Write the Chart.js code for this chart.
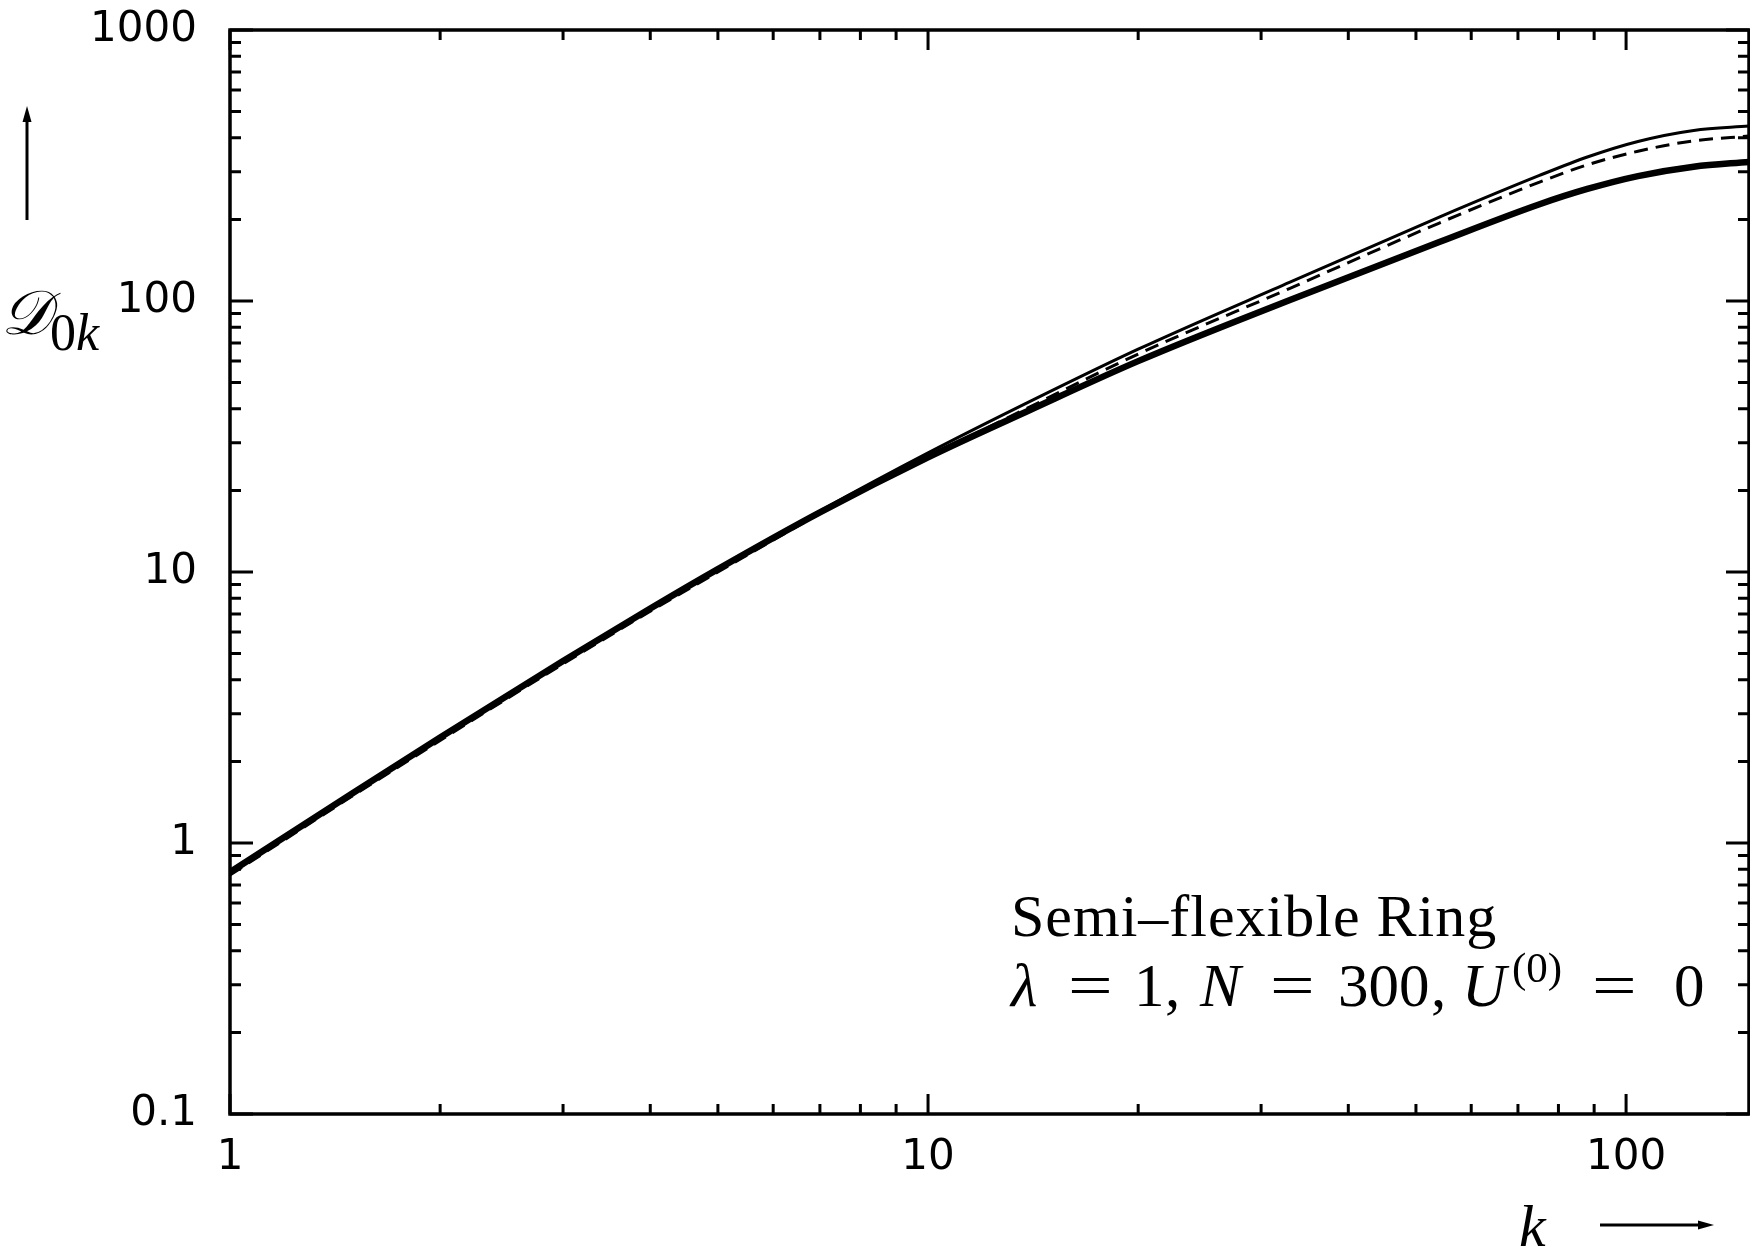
<!DOCTYPE html>
<html>
<head>
<meta charset="utf-8">
<script src="https://cdn.jsdelivr.net/npm/chart.js@4.4.0/dist/chart.umd.min.js"></script>
<style>
  html, body { margin: 0; padding: 0; background: #fff; }
</style>
</head>
<body>
<canvas id="chart" width="1750" height="1256"></canvas>
<script>
// mode number k and the three D_0k curves
const kValues    = [1, 1.5, 2, 3, 4, 5, 7, 10, 14, 20, 33, 54, 75, 88, 104, 125, 150];
const thickCurve = [0.78, 1.53, 2.45, 4.69, 7.33, 10.25, 16.6, 26.5, 39.6, 60.0, 100.9, 165, 227, 259, 289, 313, 326];
const thinCurve  = [0.78, 1.53, 2.46, 4.71, 7.36, 10.3, 16.8, 27.5, 42.6, 66.4, 117.4, 204, 290, 340, 388, 426, 442];
const dashCurve  = [0.762, 1.495, 2.39, 4.58, 7.16, 10.0, 16.4, 26.5, 40.7, 63.7, 111.4, 194, 274, 318, 357, 390, 406];

// axis ticks
const xMajor = [1, 10, 100];
const xMinor = [2, 3, 4, 5, 6, 7, 8, 9, 20, 30, 40, 50, 60, 70, 80, 90];
const yMajor = [0.1, 1, 10, 100, 1000];
const yMinor = [0.2, 0.3, 0.4, 0.5, 0.6, 0.7, 0.8, 0.9, 2, 3, 4, 5, 6, 7, 8, 9,
                20, 30, 40, 50, 60, 70, 80, 90, 200, 300, 400, 500, 600, 700, 800, 900];

const pts = (ys) => kValues.map((k, i) => ({ x: k, y: ys[i] }));

const serif = '"Liberation Serif", "DejaVu Serif", serif';

// box, inward ticks on all four sides, annotation text and axis arrows
const frame = {
  id: 'frame',
  afterDraw(chart) {
    const { ctx, chartArea: a, scales: { x, y } } = chart;
    ctx.save();
    ctx.strokeStyle = '#000';
    ctx.fillStyle = '#000';
    ctx.lineCap = 'butt';

    ctx.lineWidth = 3;
    ctx.beginPath();
    xMajor.concat(xMinor).forEach(v => {
      const len = xMajor.includes(v) ? 20 : 10;
      const px = x.getPixelForValue(v);
      ctx.moveTo(px, a.bottom); ctx.lineTo(px, a.bottom - len);
      ctx.moveTo(px, a.top); ctx.lineTo(px, a.top + len);
    });
    yMajor.concat(yMinor).forEach(v => {
      const len = yMajor.includes(v) ? 23 : 11;
      const py = y.getPixelForValue(v);
      ctx.moveTo(a.left, py); ctx.lineTo(a.left + len, py);
      ctx.moveTo(a.right, py); ctx.lineTo(a.right - len, py);
    });
    ctx.stroke();

    ctx.lineWidth = 3.5;
    ctx.strokeRect(a.left, a.top, a.right - a.left, a.bottom - a.top);

    // text box
    ctx.textBaseline = 'alphabetic';
    ctx.textAlign = 'left';
    ctx.font = '60px ' + serif;
    if ('letterSpacing' in ctx) ctx.letterSpacing = '1px';
    ctx.fillText('Semi\u2013flexible Ring', 1011, 936);
    if ('letterSpacing' in ctx) ctx.letterSpacing = '0px';

    const base2 = 1006;
    const toks = [
      ['\u03bb', 1011, 'italic 61px ', 0],
      ['=', 1068, '61px ', 0],
      ['1', 1134, '61px ', 0],
      [',', 1165, '61px ', 0],
      ['N', 1200, 'italic 61px ', 0],
      ['=', 1270, '61px ', 0],
      ['300', 1338, '61px ', 0],
      [',', 1431, '61px ', 0],
      ['U', 1462, 'italic 61px ', 0],
      ['(0)', 1512, '43px ', -24],
      ['=', 1592, '61px ', 0],
      ['0', 1674, '61px ', 0]
    ];
    toks.forEach(([t, px, f, dy]) => {
      ctx.font = f + serif;
      if (t === '=') {
        ctx.save();
        ctx.translate(px, base2);
        ctx.scale(1.3, 1);
        ctx.fillText(t, 0, 0);
        ctx.restore();
      } else {
        ctx.fillText(t, px, base2 + dy);
      }
    });

    // y axis label and arrow
    ctx.font = 'italic 62px ' + serif;
    ctx.fillText('\ud835\udc9f', 1, 334);
    ctx.font = '52px ' + serif;
    ctx.fillText('0', 50, 350);
    ctx.font = 'italic 52px ' + serif;
    ctx.fillText('k', 76, 350);

    ctx.lineWidth = 3;
    ctx.beginPath();
    ctx.moveTo(27, 220); ctx.lineTo(27, 118);
    ctx.stroke();
    ctx.beginPath();
    ctx.moveTo(27, 106); ctx.lineTo(22.5, 122); ctx.lineTo(31.5, 122); ctx.closePath();
    ctx.fill();

    // x axis label and arrow
    ctx.font = 'italic 60px ' + serif;
    ctx.fillText('k', 1519, 1246);
    ctx.beginPath();
    ctx.moveTo(1600, 1225); ctx.lineTo(1700, 1225);
    ctx.stroke();
    ctx.beginPath();
    ctx.moveTo(1714, 1225); ctx.lineTo(1698, 1220.5); ctx.lineTo(1698, 1229.5); ctx.closePath();
    ctx.fill();

    ctx.restore();
  }
};

const tickFont = { family: '"DejaVu Sans", sans-serif', size: 42 };

new Chart(document.getElementById('chart'), {
  type: 'line',
  data: {
    datasets: [
      { label: 'thick', data: pts(thickCurve), borderColor: '#000', borderWidth: 6.5,
        pointRadius: 0, fill: false, cubicInterpolationMode: 'monotone' },
      { label: 'thin', data: pts(thinCurve), borderColor: '#000', borderWidth: 3,
        pointRadius: 0, fill: false, cubicInterpolationMode: 'monotone' },
      { label: 'dashed', data: pts(dashCurve), borderColor: '#000', borderWidth: 3,
        borderDash: [14, 8], pointRadius: 0, fill: false, cubicInterpolationMode: 'monotone' }
    ]
  },
  options: {
    responsive: false,
    animation: false,
    events: [],
    layout: { padding: { top: 30, right: 1, bottom: 0, left: 0 } },
    plugins: { legend: { display: false }, tooltip: { enabled: false } },
    scales: {
      x: {
        type: 'logarithmic',
        min: 1,
        max: 150,
        grid: { display: false, drawTicks: false },
        border: { display: false },
        afterBuildTicks: (s) => { s.ticks = xMajor.map(v => ({ value: v })); },
        afterFit: (s) => { s.height = 142; s.paddingLeft = 0; s.paddingRight = 0; },
        ticks: {
          autoSkip: false, maxRotation: 0, padding: 19, color: '#000', font: tickFont,
          callback: (v) => String(v)
        }
      },
      y: {
        type: 'logarithmic',
        min: 0.1,
        max: 1000,
        grid: { display: false, drawTicks: false },
        border: { display: false },
        afterBuildTicks: (s) => { s.ticks = yMajor.map(v => ({ value: v })); },
        afterFit: (s) => { s.width = 230; s.paddingTop = 0; s.paddingBottom = 0; },
        ticks: {
          autoSkip: false, padding: 33, color: '#000', font: tickFont,
          callback: (v) => String(v)
        }
      }
    }
  },
  plugins: [frame]
});
</script>
</body>
</html>
